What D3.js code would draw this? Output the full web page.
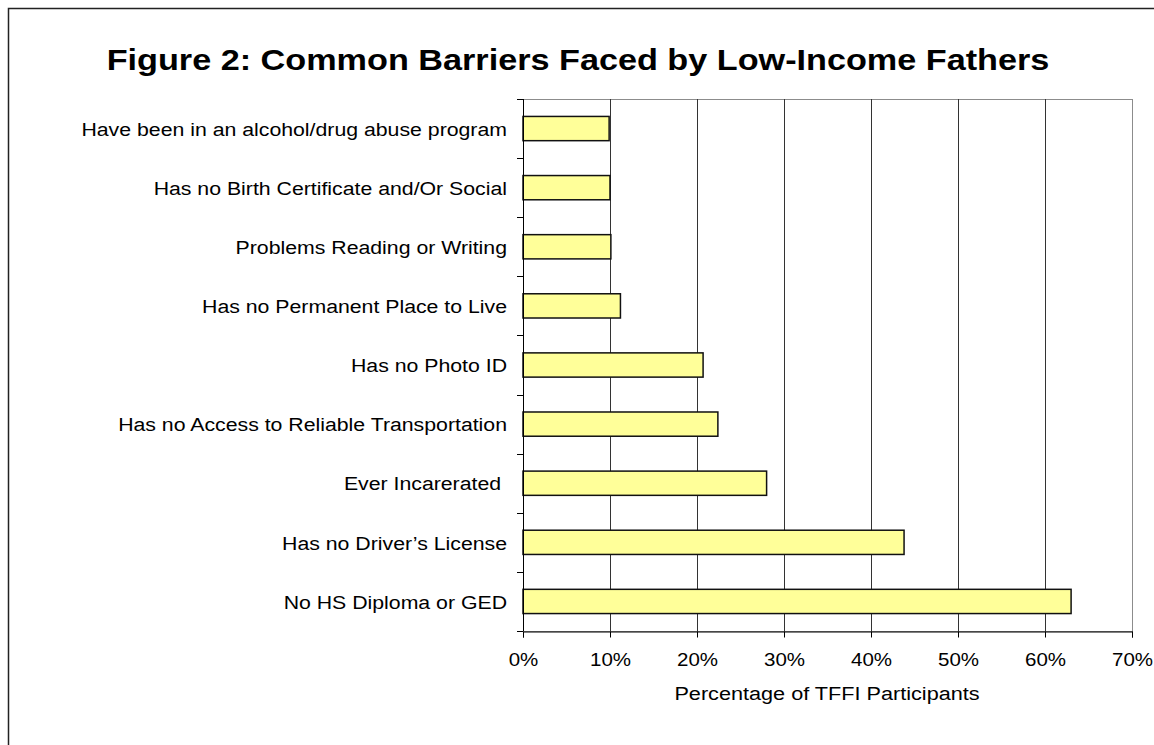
<!DOCTYPE html>
<html lang="en">
  <head>
    <meta charset="UTF-8" />
    <title>Common Barriers Faced by Low-Income Fathers</title>
    <script src="https://d3js.org/d3.v7.min.js"></script>
    <style>
      body { margin: 0; background: #fff; }
      svg { display: block; font-family: Arial, "Liberation Sans", sans-serif; }
    </style>
  </head>
  <body>
    <div id="chart"></div>
    <script>
      // data, top to bottom as drawn
      var categories = [
        "Have been in an alcohol/drug abuse program",
        "Has no Birth Certificate and/Or Social",
        "Problems Reading or Writing",
        "Has no Permanent Place to Live",
        "Has no Photo ID",
        "Has no Access to Reliable Transportation",
        "Ever Incarerated ",
        "Has no Driver\u2019s License",
        "No HS Diploma or GED",
      ];
      var values = [9.9, 10.0, 10.1, 11.2, 20.7, 22.4, 28.0, 43.8, 63.0];
      var xTicks = [0, 10, 20, 30, 40, 50, 60, 70];

      var width = 1154,
        height = 745;
      var pLeft = 523,
        pRight = 1132,
        pTop = 99,
        pBottom = 631;
      var sx = 1.14; // the original figure's text is a little wide

      var svg = d3
        .select("#chart")
        .append("svg")
        .attr("width", width)
        .attr("height", height);

      // outer chart border (runs off the bottom/right of the page)
      svg
        .append("rect")
        .attr("x", 8.5)
        .attr("y", 8.5)
        .attr("width", 1160)
        .attr("height", 760)
        .attr("fill", "none")
        .attr("stroke", "#222")
        .attr("stroke-width", 1.5);

      svg
        .append("g")
        .attr("transform", "translate(578,70)")
        .append("text")
        .attr("transform", "scale(1.18,1)")
        .attr("text-anchor", "middle")
        .style("font-size", "29px")
        .style("font-weight", "bold")
        .text("Figure 2: Common Barriers Faced by Low-Income Fathers");

      var x = d3.scaleLinear().domain([0, 70]).range([pLeft, pRight]);
      var y = d3
        .scaleBand()
        .domain(categories)
        .range([pTop, pBottom])
        .paddingInner(0.59)
        .paddingOuter(0.295);

      // plot area border (gray)
      svg
        .append("rect")
        .attr("x", pLeft + 0.5)
        .attr("y", pTop + 0.5)
        .attr("width", pRight - pLeft)
        .attr("height", pBottom - pTop)
        .attr("fill", "none")
        .attr("stroke", "#8c8c8c")
        .attr("stroke-width", 1);

      // vertical gridlines
      svg
        .append("g")
        .selectAll("line")
        .data(xTicks.slice(1, -1))
        .join("line")
        .attr("x1", (d) => Math.round(x(d)) + 0.5)
        .attr("x2", (d) => Math.round(x(d)) + 0.5)
        .attr("y1", pTop)
        .attr("y2", pBottom)
        .attr("stroke", "#333")
        .attr("stroke-width", 1);

      // bars
      svg
        .append("g")
        .selectAll("rect")
        .data(values)
        .join("rect")
        .attr("x", x(0))
        .attr("y", (d, i) => y(categories[i]))
        .attr("width", (d) => x(d) - x(0))
        .attr("height", y.bandwidth())
        .attr("fill", "#ffff99")
        .attr("stroke", "#111")
        .attr("stroke-width", 1.5);

      // x axis
      var xAxis = svg
        .append("g")
        .attr("transform", "translate(0," + (pBottom + 0.5) + ")")
        .call(
          d3
            .axisBottom(x)
            .tickValues(xTicks)
            .tickFormat((d) => d + "%")
            .tickSize(6)
            .tickPadding(16)
        );
      xAxis.select(".domain").attr("stroke", "#000");
      xAxis.selectAll("line").attr("stroke", "#000");
      xAxis
        .selectAll("text")
        .attr("transform", "scale(" + sx + ",1)")
        .style("font-size", "18px")
        .style("font-family", "Arial, 'Liberation Sans', sans-serif")
        .attr("fill", "#000");

      // y axis: line plus category boundary ticks
      var yAxis = svg.append("g");
      yAxis
        .append("line")
        .attr("x1", pLeft + 0.5)
        .attr("x2", pLeft + 0.5)
        .attr("y1", pTop)
        .attr("y2", pBottom)
        .attr("stroke", "#000");
      yAxis
        .selectAll(".bt")
        .data(d3.range(categories.length + 1))
        .join("line")
        .attr("class", "bt")
        .attr("x1", pLeft - 6)
        .attr("x2", pLeft)
        .attr("y1", (i) => Math.round(pTop + i * y.step()) + 0.5)
        .attr("y2", (i) => Math.round(pTop + i * y.step()) + 0.5)
        .attr("stroke", "#000");
      yAxis
        .selectAll(".lbl")
        .data(categories)
        .join("g")
        .attr("class", "lbl")
        .attr("transform", (d) => "translate(507," + (y(d) + y.bandwidth() / 2) + ")")
        .append("text")
        .attr("transform", "scale(1.12,1)")
        .attr("dy", "0.38em")
        .attr("text-anchor", "end")
        .style("font-size", "19px")
        .style("white-space", "pre")
        .text((d) => d);

      svg
        .append("g")
        .attr("transform", "translate(827,700)")
        .append("text")
        .attr("transform", "scale(" + sx + ",1)")
        .attr("text-anchor", "middle")
        .style("font-size", "19px")
        .text("Percentage of TFFI Participants");
    </script>
  </body>
</html>
